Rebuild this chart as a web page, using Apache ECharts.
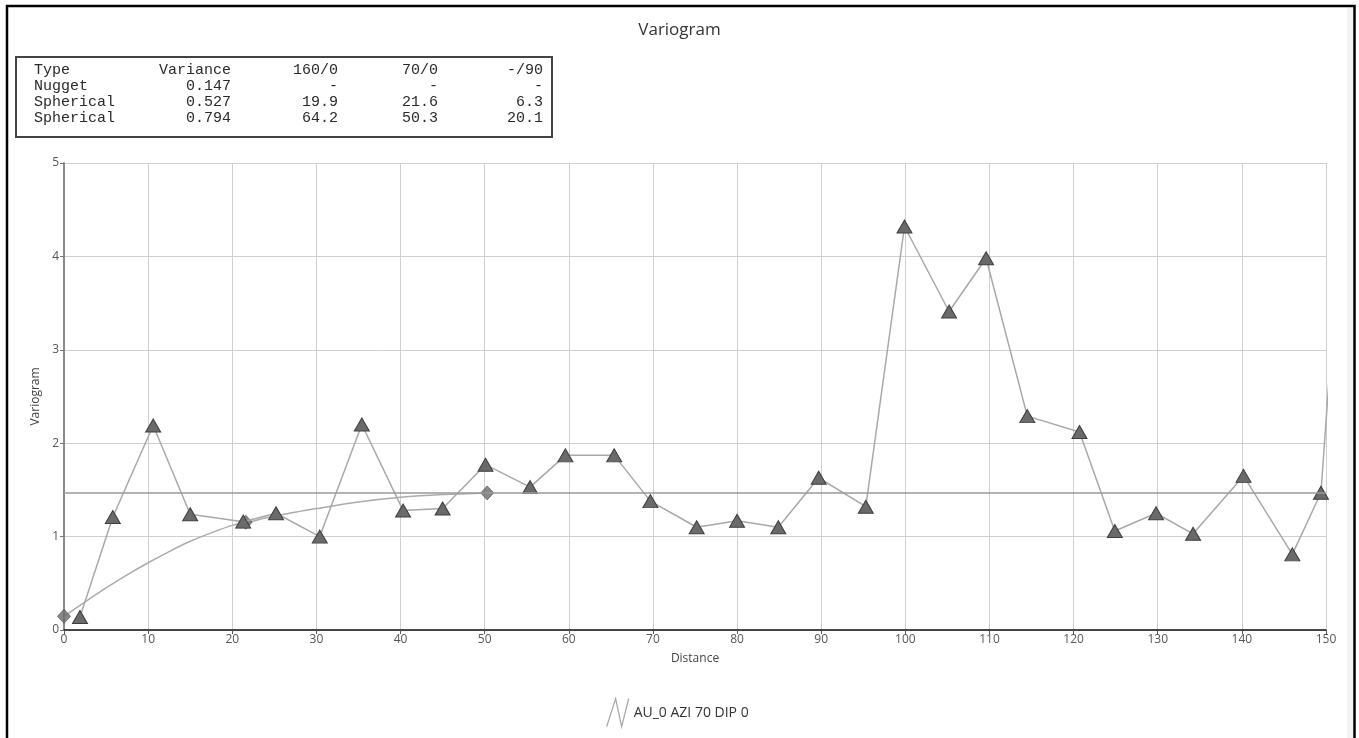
<!DOCTYPE html>
<html>
<head>
<meta charset="utf-8">
<title>Variogram</title>
<script src="https://cdn.jsdelivr.net/npm/echarts@6/dist/echarts.min.js"></script>
<style>
  html, body { margin: 0; padding: 0; background: #ffffff; }
  #chart { width: 1359px; height: 738px; }
</style>
</head>
<body>
<div id="chart"></div>
<script>
// Experimental variogram (lag distance vs. semivariance)
const lagDistance = [1.9, 5.8, 10.6, 15.0, 21.3, 25.2, 30.4, 35.4, 40.3, 45.0, 50.1, 55.4, 59.6, 65.4, 69.7,
  75.2, 80.0, 84.9, 89.7, 95.3, 99.9, 105.2, 109.6, 114.5, 120.7, 124.9, 129.8, 134.2, 140.2, 146.0, 149.4, 151.0];
const lagVariogram = [0.14, 1.21, 2.19, 1.24, 1.16, 1.25, 1.00, 2.20, 1.28, 1.30, 1.77, 1.53, 1.87, 1.87, 1.38,
  1.10, 1.17, 1.10, 1.63, 1.32, 4.32, 3.41, 3.98, 2.29, 2.12, 1.06, 1.25, 1.03, 1.65, 0.81, 1.47, 3.50];

// Fitted model curve (nugget + two nested spherical structures)
const modelDistance = [0, 2.5, 5, 7.5, 10, 12.5, 15, 17.5, 20, 21.6, 25, 28, 30, 35, 40, 45, 50.3];
const modelVariogram = [0.147, 0.30, 0.45, 0.59, 0.72, 0.84, 0.95, 1.04, 1.12, 1.15, 1.22, 1.27, 1.30, 1.37, 1.42, 1.45, 1.468];

// Range markers on the model curve
const rangeDistance = [0, 21.6, 50.3];
const rangeVariogram = [0.147, 1.154, 1.468];

const totalSill = 1.468;

// Model parameters table
const tableHeader = ['Type', 'Variance', '160/0', '70/0', '-/90'];
const tableRows = [
  ['Nugget', '0.147', '-', '-', '-'],
  ['Spherical', '0.527', '19.9', '21.6', '6.3'],
  ['Spherical', '0.794', '64.2', '50.3', '20.1']
];

const xTicks = { min: 0, max: 150, interval: 10 };
const yTicks = { min: 0, max: 5, interval: 1 };

const seriesName = 'AU_0 AZI 70 DIP 0';

const uiFont = '"Open Sans", "Noto Sans", sans-serif';
const monoFont = '"Liberation Mono", "DejaVu Sans Mono", monospace';

function pairs(xs, ys) { return xs.map((x, i) => [x, ys[i]]); }

// Table graphic: frame + left/right aligned monospace cells
const colX = [34, 231, 338, 438, 543];
const colAlign = ['left', 'right', 'right', 'right', 'right'];
const rowY = [70, 86, 102, 118];
const tableCells = [];
[tableHeader].concat(tableRows).forEach((row, r) => {
  row.forEach((cell, c) => {
    tableCells.push({
      type: 'text',
      x: colX[c],
      y: rowY[r],
      style: {
        text: cell,
        font: '15px ' + monoFont,
        fill: '#2a2a2a',
        textAlign: colAlign[c],
        textVerticalAlign: 'middle'
      }
    });
  });
});

const chart = echarts.init(document.getElementById('chart'), null, { renderer: 'canvas' });

chart.setOption({
  backgroundColor: '#ffffff',
  animation: false,
  title: {
    text: 'Variogram',
    left: 'center',
    top: 17,
    textStyle: { fontFamily: uiFont, fontSize: 17, fontWeight: 'normal', color: '#333333' }
  },
  legend: {
    data: [seriesName],
    left: 601,
    top: 693,
    itemWidth: 22,
    itemHeight: 28,
    icon: 'path://M0,28 L9,0 L15,28 L22,0',
    itemStyle: { color: 'transparent', borderColor: '#a8a8a8', borderWidth: 1.3 },
    textStyle: { fontFamily: uiFont, fontSize: 14, color: '#333333' }
  },
  grid: { left: 64, right: 33, top: 163, bottom: 108, containLabel: false },
  xAxis: {
    type: 'value',
    min: xTicks.min,
    max: xTicks.max,
    interval: xTicks.interval,
    name: 'Distance',
    nameLocation: 'middle',
    nameGap: 23,
    nameTextStyle: { fontFamily: uiFont, fontSize: 12, color: '#444444' },
    axisLine: { onZero: false, lineStyle: { color: '#111111', width: 1.5 } },
    axisTick: { show: true, length: 4, lineStyle: { color: '#555555' } },
    axisLabel: { fontFamily: uiFont, fontSize: 12, color: '#555555', margin: 4 },
    splitLine: { show: true, lineStyle: { color: '#cfcfcf', width: 1 } }
  },
  yAxis: {
    type: 'value',
    min: yTicks.min,
    max: yTicks.max,
    interval: yTicks.interval,
    name: 'Variogram',
    nameLocation: 'middle',
    nameGap: 19,
    nameRotate: 90,
    nameTextStyle: { fontFamily: uiFont, fontSize: 12, color: '#444444' },
    axisLine: { show: true, lineStyle: { color: '#8a8a8a', width: 2 } },
    axisTick: { show: true, length: 4, lineStyle: { color: '#777777' } },
    axisLabel: { fontFamily: uiFont, fontSize: 12, color: '#555555', margin: 5 },
    splitLine: { show: true, lineStyle: { color: '#cfcfcf', width: 1 } }
  },
  series: [
    {
      name: 'Model',
      type: 'line',
      data: pairs(modelDistance, modelVariogram),
      smooth: 0.3,
      symbol: 'none',
      clip: true,
      lineStyle: { color: '#ababab', width: 1.5 },
      markLine: {
        silent: true,
        symbol: 'none',
        label: { show: false },
        lineStyle: { color: '#9a9a9a', width: 1.5, type: 'solid' },
        data: [{ yAxis: totalSill }]
      },
      z: 2
    },
    {
      name: 'Ranges',
      type: 'scatter',
      data: pairs(rangeDistance, rangeVariogram),
      symbol: 'diamond',
      symbolSize: [13, 14],
      clip: true,
      itemStyle: { color: '#6a6a6a', borderColor: '#454545', borderWidth: 0.8 },
      z: 3
    },
    {
      name: seriesName,
      type: 'line',
      data: pairs(lagDistance, lagVariogram),
      symbol: 'triangle',
      symbolSize: [15, 13],
      showAllSymbol: true,
      clip: true,
      lineStyle: { color: '#a8a8a8', width: 1.5 },
      itemStyle: { color: '#6a6a6a', borderColor: '#3e3e3e', borderWidth: 1 },
      z: 4
    }
  ],
  graphic: [
    {
      type: 'rect',
      silent: true,
      shape: { x: 1347, y: 8, width: 6, height: 740 },
      style: { fill: '#f3f3f3' },
      z: 1
    },
    {
      type: 'rect',
      silent: true,
      shape: { x: 7, y: 6, width: 1347.5, height: 740 },
      style: { fill: 'none', stroke: '#000000', lineWidth: 2.5 },
      z: 100
    },
    {
      type: 'group',
      silent: true,
      z: 50,
      children: [
        {
          type: 'rect',
          shape: { x: 16, y: 57, width: 536, height: 80 },
          style: { fill: '#ffffff', stroke: '#444444', lineWidth: 2 }
        }
      ].concat(tableCells)
    }
  ]
});
</script>
</body>
</html>
